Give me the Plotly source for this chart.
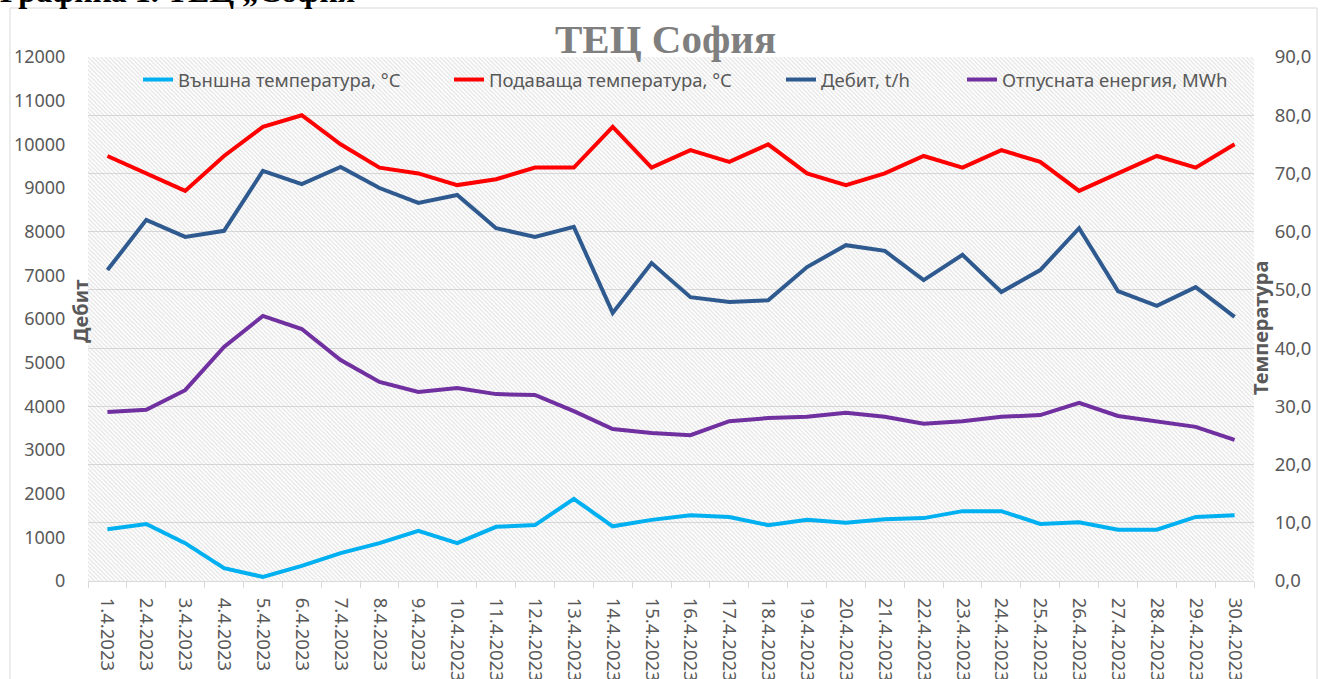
import plotly.graph_objects as go

dates = [f"{d}.4.2023" for d in range(1, 31)]

outside_temp = [8.9, 9.8, 6.5, 2.2, 0.7, 2.6, 4.8, 6.5, 8.6, 6.5, 9.3, 9.6, 14.1, 9.4, 10.5,
                11.3, 11.0, 9.6, 10.5, 10.0, 10.6, 10.8, 12.0, 12.0, 9.8, 10.1, 8.8, 8.8, 11.0, 11.3]
supply_temp = [73, 70, 67, 73, 78, 80, 75, 71, 70, 68, 69, 71, 71, 78, 71,
               74, 72, 75, 70, 68, 70, 73, 71, 74, 72, 67, 70, 73, 71, 75]
flow = [7120, 8270, 7880, 8020, 9390, 9090, 9480, 9000, 8660, 8840, 8080, 7880, 8110, 6140, 7280,
        6500, 6390, 6430, 7190, 7690, 7560, 6890, 7470, 6620, 7120, 8080, 6640, 6300, 6730, 6050]
energy = [3870, 3920, 4370, 5360, 6070, 5770, 5060, 4560, 4330, 4420, 4280, 4260, 3890, 3480, 3390,
          3340, 3660, 3730, 3760, 3850, 3760, 3600, 3660, 3760, 3800, 4080, 3780, 3660, 3530, 3230]

left_ticks = list(range(0, 12001, 1000))
left_text = [str(v) for v in left_ticks]
right_ticks = list(range(0, 91, 10))
right_text = [f"{v},0" for v in right_ticks]

FONT = "Noto Sans"
GRAY = "#595959"
FS = 18.5

fig = go.Figure()

# hatched plot-area background
fig.add_trace(go.Scatter(x=[0, 1, 1, 0, 0], y=[0, 0, 1, 1, 0], xaxis="x", yaxis="y",
                         mode="lines", line=dict(width=0), fill="toself",
                         fillcolor="rgba(0,0,0,0)",
                         fillpattern=dict(shape="\\", fgcolor="#c8c8c8", bgcolor="rgba(0,0,0,0)",
                                          size=3, solidity=0.4),
                         hoverinfo="skip", showlegend=False))

fig.add_trace(go.Scatter(x=dates, y=outside_temp, xaxis="x2", yaxis="y3", mode="lines",
                         name="Външна температура, °C", line=dict(color="#00b0f0", width=4),
                         legend="legend"))
fig.add_trace(go.Scatter(x=dates, y=supply_temp, xaxis="x2", yaxis="y3", mode="lines",
                         name="Подаваща температура, °C", line=dict(color="#ff0000", width=4),
                         legend="legend2"))
fig.add_trace(go.Scatter(x=dates, y=flow, xaxis="x2", yaxis="y2", mode="lines",
                         name="Дебит, t/h", line=dict(color="#2f5a8f", width=4),
                         legend="legend3"))
fig.add_trace(go.Scatter(x=dates, y=energy, xaxis="x2", yaxis="y2", mode="lines",
                         name="Отпусната енергия, MWh", line=dict(color="#7030a0", width=4),
                         legend="legend4"))

W, H = 1323, 679
L, R, T, B = 88, 69, 57, 98
pw, ph = W - L - R, H - T - B


def px(xp):
    return (xp - L) / pw


def py(yp):
    return (H - B - yp) / ph


legend_common = dict(orientation="h", bgcolor="rgba(0,0,0,0)", yanchor="middle",
                     xanchor="left", font=dict(family=FONT, size=FS, color=GRAY), borderwidth=0)

fig.update_layout(
    width=W, height=H,
    margin=dict(l=L, r=R, t=T, b=B, autoexpand=False),
    paper_bgcolor="white", plot_bgcolor="white",
    font=dict(family=FONT, color=GRAY),
    xaxis=dict(domain=[0, 1], range=[0, 1], visible=False, fixedrange=True),
    yaxis=dict(domain=[0, 1], range=[0, 1], visible=False, fixedrange=True),
    xaxis2=dict(overlaying="x", anchor="y2", type="category", range=[-0.5, 29.5],
                tickangle=90, showgrid=False, showline=True, linecolor="#d9d9d9", linewidth=1,
                ticks="outside", tickson="boundaries", ticklen=6, tickcolor="#d9d9d9",
                ticklabelstandoff=12,
                tickfont=dict(family=FONT, size=FS, color=GRAY), automargin=False),
    yaxis2=dict(overlaying="y", anchor="x2", side="left", range=[0, 12000],
                tickvals=left_ticks, ticktext=left_text, showgrid=False, showline=False,
                zeroline=False, ticks="outside", ticklen=18, tickcolor="rgba(0,0,0,0)",
                tickfont=dict(family=FONT, size=18, color=GRAY), automargin=False),
    yaxis3=dict(overlaying="y", anchor="x2", side="right", range=[0, 90],
                tickvals=right_ticks, ticktext=right_text, showgrid=True,
                gridcolor="#d9d9d9", gridwidth=1, zeroline=False, showline=False,
                ticks="outside", ticklen=16, tickcolor="rgba(0,0,0,0)",
                tickfont=dict(family=FONT, size=FS, color=GRAY), automargin=False),
    legend=dict(legend_common, x=px(138), y=py(80)),
    legend2=dict(legend_common, x=px(449), y=py(80)),
    legend3=dict(legend_common, x=px(781), y=py(80)),
    legend4=dict(legend_common, x=px(962), y=py(80)),
    showlegend=True,
)

fig.add_annotation(text="<b>ТЕЦ София</b>", xref="paper", yref="paper", x=px(665), y=py(39),
                   showarrow=False, xanchor="center", yanchor="middle",
                   font=dict(family="Liberation Serif", size=41, color="#7f7f7f"))
fig.add_annotation(text="<b>Графика 1. ТЕЦ „София“</b>", xref="paper", yref="paper",
                   x=px(-2), y=py(11), showarrow=False, xanchor="left", yanchor="bottom",
                   font=dict(family="Liberation Serif", size=32, color="black"))
fig.add_annotation(text="<b>Дебит</b>", xref="paper", yref="paper", x=px(80), y=py(312),
                   showarrow=False, textangle=-90, xanchor="center", yanchor="middle",
                   font=dict(family=FONT, size=20, color=GRAY))
fig.add_annotation(text="<b>Температура</b>", xref="paper", yref="paper", x=px(1260), y=py(328),
                   showarrow=False, textangle=-90, xanchor="center", yanchor="middle",
                   font=dict(family=FONT, size=20, color=GRAY))

fig.add_shape(type="rect", xref="paper", yref="paper", x0=px(10), x1=px(1317),
              y0=py(700), y1=py(8), line=dict(color="#d9d9d9", width=1), layer="below")

fig.write_html("out.html", config={"displayModeBar": False},
               post_script="document.body.style.margin='0';")
